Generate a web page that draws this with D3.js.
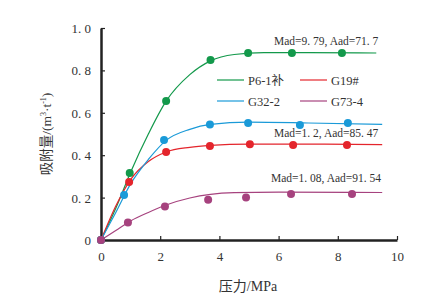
<!DOCTYPE html>
<html>
<head>
<meta charset="utf-8">
<script src="https://cdn.jsdelivr.net/npm/d3@7"></script>
<style>
    body { margin: 0; background: #fff; }
    svg text { font-family: "Liberation Serif", "Noto Sans CJK SC", serif; fill: #333; }
</style>
</head>
<body>
<div id="chart"></div>
<script>
const seriesNames = ["P6-1补", "G19#", "G32-2", "G73-4"];
const colours = ["#13994b", "#e4252c", "#1a9ad8", "#a6427e"];

const p6Points = [[0, 0], [0.97, 0.316], [2.2, 0.656], [3.7, 0.849], [4.97, 0.882], [6.45, 0.882], [8.14, 0.882]];
const g19Points = [[0, 0], [0.95, 0.274], [2.2, 0.415], [3.68, 0.443], [5.03, 0.452], [6.49, 0.448], [8.31, 0.448]];
const g32Points = [[0, 0], [0.78, 0.212], [2.13, 0.472], [3.68, 0.545], [4.97, 0.552], [6.72, 0.542], [8.34, 0.552]];
const g73Points = [[0, 0], [0.91, 0.082], [2.16, 0.158], [3.62, 0.19], [4.9, 0.2], [6.42, 0.217], [8.48, 0.217]];

// fitted curves
const p6Fit = [[0, 0], [0.5, 0.15], [1, 0.32], [1.6, 0.5], [2.2, 0.655], [3, 0.78], [3.7, 0.845], [4.5, 0.875], [5.5, 0.884], [7, 0.884], [9.3, 0.882]];
const g19Fit = [[0, 0], [0.5, 0.16], [1, 0.285], [1.6, 0.37], [2.2, 0.415], [3, 0.437], [3.7, 0.446], [5, 0.452], [7, 0.452], [9.5, 0.45]];
const g32Fit = [[0, 0], [0.5, 0.13], [1, 0.265], [1.6, 0.38], [2.2, 0.47], [3, 0.522], [3.7, 0.545], [5, 0.556], [7, 0.552], [9.5, 0.545]];
const g73Fit = [[0, 0], [0.5, 0.045], [1, 0.09], [1.6, 0.13], [2.2, 0.165], [3, 0.198], [3.7, 0.215], [4.5, 0.223], [6, 0.226], [9.5, 0.224]];

const xTicks = [0, 2, 4, 6, 8, 10];
const yTicks = [0, 0.2, 0.4, 0.6, 0.8, 1.0];
const notes = ["Mad=9. 79, Aad=71. 7", "Mad=1. 2, Aad=85. 47", "Mad=1. 08, Aad=91. 54"];

const width = 434,
    height = 300;

const svg = d3.select("#chart").append("svg")
    .attr("width", width)
    .attr("height", height);

const x = d3.scaleLinear().domain([0, 10]).range([101, 397]);
const y = d3.scaleLinear().domain([0, 1]).range([240, 28]);

const fmt = d => d === 0 ? "0" : d.toFixed(1).replace(".", ". ");

// axes (ticks point inward)
const yAxis = svg.append("g")
    .attr("transform", `translate(${x(0)},0)`)
    .call(d3.axisLeft(y).tickValues(yTicks).tickFormat(fmt).tickSize(-4).tickSizeOuter(0).tickPadding(10));
const xAxis = svg.append("g")
    .attr("transform", `translate(0,${y(0)})`)
    .call(d3.axisBottom(x).tickValues(xTicks).tickFormat(d3.format("d")).tickSize(-4).tickSizeOuter(0).tickPadding(12));

[xAxis, yAxis].forEach(ax => {
    ax.select(".domain").attr("stroke", "#222").attr("stroke-width", 2.5);
    ax.selectAll(".tick line").attr("stroke", "#222").attr("stroke-width", 1.2);
    ax.selectAll(".tick text").style("font-size", "13px").attr("fill", "#333");
});
yAxis.selectAll(".tick text").attr("dy", "0.35em");

const line = d3.line()
    .x(d => x(d[0]))
    .y(d => y(d[1]))
    .curve(d3.curveMonotoneX);

const fits = [p6Fit, g19Fit, g32Fit, g73Fit];
const points = [p6Points, g19Points, g32Points, g73Points];

fits.forEach((f, i) => {
    svg.append("path")
        .attr("d", line(f))
        .attr("fill", "none")
        .attr("stroke", colours[i])
        .attr("stroke-width", 1.2);
});

points.forEach((p, i) => {
    svg.append("g")
        .selectAll("circle")
        .data(p)
        .enter()
        .append("circle")
        .attr("cx", d => x(d[0]))
        .attr("cy", d => y(d[1]))
        .attr("r", 4)
        .attr("fill", colours[i]);
});

// legend: 2 x 2
const legendPos = [[217, 80], [300, 80], [217, 101], [300, 101]];
seriesNames.forEach((name, i) => {
    const [lx, ly] = legendPos[i];
    svg.append("line")
        .attr("x1", lx).attr("x2", lx + 27)
        .attr("y1", ly).attr("y2", ly)
        .attr("stroke", colours[i])
        .attr("stroke-width", 1.2);
    svg.append("text")
        .attr("x", lx + 31)
        .attr("y", ly + 4.5)
        .style("font-size", "12.5px")
        .text(name);
});

// annotations
const notePos = [[274, 45], [274, 137], [271, 182]];
notes.forEach((t, i) => {
    svg.append("text")
        .attr("x", notePos[i][0])
        .attr("y", notePos[i][1])
        .style("font-size", "11.5px")
        .text(t);
});

// axis titles
svg.append("text")
    .attr("x", 248)
    .attr("y", 291)
    .style("text-anchor", "middle")
    .style("font-size", "14px")
    .text("压力/MPa");

const yt = svg.append("text")
    .attr("transform", "translate(51,134) rotate(-90)")
    .style("text-anchor", "middle")
    .style("font-size", "13.5px");
yt.append("tspan").text("吸附量/(m");
yt.append("tspan").attr("dy", "-5").style("font-size", "8px").text("3");
yt.append("tspan").attr("dy", "5").text("·t");
yt.append("tspan").attr("dy", "-5").style("font-size", "8px").text("-1");
yt.append("tspan").attr("dy", "5").text(")");
</script>
</body>
</html>
